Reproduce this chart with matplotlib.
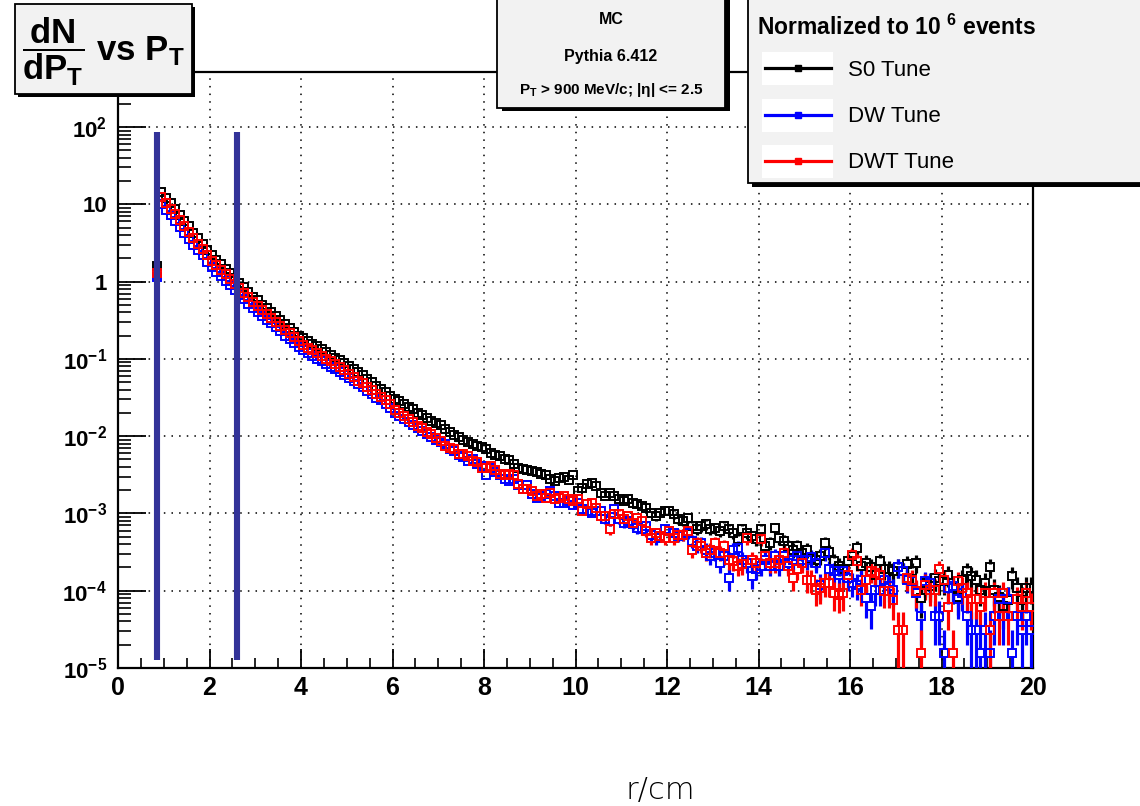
import numpy as np
import matplotlib
matplotlib.use('Agg')
import matplotlib.pyplot as plt
from matplotlib.patches import Rectangle
from matplotlib.lines import Line2D
from matplotlib.ticker import FixedLocator, MultipleLocator, LogLocator, NullFormatter

plt.rcParams['font.family'] = ['Liberation Sans', 'DejaVu Sans']
plt.rcParams['mathtext.fontset'] = 'custom'
plt.rcParams['mathtext.rm'] = 'Liberation Sans'
plt.rcParams['mathtext.bf'] = 'Liberation Sans:bold'
plt.rcParams['mathtext.it'] = 'Liberation Sans:italic'
plt.rcParams['mathtext.sf'] = 'Liberation Sans'

# ---------------- data ----------------
bin_low = 0.8          # first filled bin edge
bin_width = 0.1
entry_weight = 1.55e-5  # weight of a single entry (normalised to 10^6 events)

s0_tune = [
    1.6, 14.5,
    12.2, 10.3, 8.6, 7.3, 6.1, 5.2, 4.3, 3.7, 3.1, 2.6,
    2.2, 1.93, 1.68, 1.46, 1.28, 1.11, 0.97, 0.85, 0.74, 0.64,
    0.57, 0.50, 0.45, 0.40, 0.355, 0.315, 0.28, 0.25, 0.225, 0.20,
    0.185, 0.17, 0.157, 0.145, 0.133, 0.122, 0.113, 0.104, 0.096, 0.088,
    0.081, 0.074, 0.067, 0.061, 0.055, 0.050, 0.045, 0.041, 0.037, 0.033,
    0.0300, 0.0282, 0.0258, 0.0240, 0.0222, 0.0201, 0.0188, 0.0171, 0.0158, 0.0146,
    0.0140, 0.0125, 0.0114, 0.0102, 0.0097, 0.0088, 0.0083, 0.0080, 0.0074, 0.0072,
    0.0068, 0.0060, 0.0057, 0.0055, 0.0051, 0.0049, 0.0044, 0.0039, 0.0038, 0.0037,
    0.0035, 0.0034, 0.0032, 0.0031, 0.0028, 0.0026, 0.0029, 0.0030, 0.0027, 0.0031,
    0.00195, 0.00215, 0.00238, 0.0025, 0.00226, 0.00186, 0.00168, 0.00186, 0.00168, 0.00152,
    0.00145, 0.00152, 0.00138, 0.00131, 0.00125, 0.00119, 0.00102, 0.00092, 0.00102, 0.00107,
    0.00107, 0.00097, 0.00084, 0.00080, 0.00088, 0.00068, 0.00062, 0.00068, 0.00072, 0.00062,
    0.00065, 0.00059, 0.00068, 0.00062, 0.00056, 0.00046, 0.00062, 0.00056, 0.00051, 0.00046,
    0.00062, 0.00038, 0.00042, 0.00065, 0.00048, 0.00044, 0.00038, 0.00034, 0.00038, 0.00031,
    0.00034, 0.000265, 0.00025, 0.00028, 0.00042, 0.00032, 0.00024, 0.00021, 0.00019, 0.00024,
    0.00028, 0.00036, 0.00021, 0.00023, 0.00020, 0.00016, 0.00024, 0.00019, 0.00019, 0.000178,
    0.00020, 0.000178, 0.00022, 0.000178, 0.00023, 0.00008, 0.000126, 0.000114, 0.000146, 0.000132,
    0.000132, 0.000161, 0.000108, 0.000084, 0.000139, 0.000178, 0.000153, 0.000139, 0.000103, 0.000126,
    0.00020, 0.000103, 0.000084, 0.000063, 0.000076, 0.000153, 0.000108, 0.000076, 0.000108, 0.000108,
]

dw_tune = [
    1.15, 10.0,
    8.5, 7.2, 6.0, 5.1, 4.3, 3.6, 3.0, 2.6, 2.2, 1.8,
    1.55, 1.35, 1.18, 1.02, 0.90, 0.78, 0.68, 0.60, 0.52, 0.45,
    0.41, 0.36, 0.32, 0.29, 0.255, 0.227, 0.20, 0.18, 0.162, 0.144,
    0.130, 0.119, 0.110, 0.101, 0.093, 0.085, 0.079, 0.073, 0.067, 0.062,
    0.057, 0.052, 0.047, 0.043, 0.0385, 0.035, 0.0315, 0.029, 0.026, 0.023,
    0.0198, 0.0183, 0.0166, 0.0153, 0.0140, 0.0126, 0.0116, 0.0106, 0.0097, 0.0089,
    0.0083, 0.0079, 0.0068, 0.0065, 0.0057, 0.0053, 0.0048, 0.0050, 0.0043, 0.0041,
    0.0031, 0.0039, 0.0034, 0.0031, 0.0028, 0.0026, 0.0028, 0.0023, 0.0021, 0.0023,
    0.00177, 0.0016, 0.00168, 0.00177, 0.00195, 0.00168, 0.00138, 0.00138, 0.00145, 0.0013,
    0.00138, 0.00113, 0.00107, 0.00102, 0.00107, 0.00107, 0.00084, 0.0008, 0.00113, 0.00084,
    0.00076, 0.0008, 0.00072, 0.00065, 0.00062, 0.00068, 0.00053, 0.00048, 0.00051, 0.00062,
    0.00059, 0.00056, 0.00051, 0.00053, 0.00056, 0.00044, 0.00038, 0.00042, 0.00034, 0.00028,
    0.00031, 0.00023, 0.00028, 0.000146, 0.00034, 0.00036, 0.00025, 0.00023, 0.000153, 0.00019,
    0.00021, 0.00025, 0.00021, 0.00028, 0.00021, 0.00028, 0.00023, 0.00025, 0.00028, 0.00025,
    2.5e-4, 2.7e-4, 2.3e-4, 1.2e-4, 3.1e-4, 1.9e-4, 1.78e-4, 1.61e-4, 1.78e-4, 1.46e-4,
    1.26e-4, 1.2e-4, 1.39e-4, 8.0e-5, 6.3e-5, 1.03e-4, 1.03e-4, 1.39e-4, 1.14e-4, 1.03e-4,
    2.0e-4, 1.78e-4, 1.39e-4, 1.32e-4, 9.3e-5, 4.65e-5, 1.32e-4, 1.26e-4, 4.65e-5, 4.65e-5,
    1.55e-5, 1.08e-4, 1.14e-4, 7.75e-5, 9.3e-5, 4.65e-5, 3.1e-5, 3.1e-5, 1.55e-5, 3.1e-5,
    1.55e-5, 4.65e-5, 7.75e-5, 4.65e-5, 7.75e-5, 1.55e-5, 4.65e-5, 3.1e-5, 4.65e-5, 3.1e-5,
]

dwt_tune = [
    1.3, 12.3,
    10.4, 8.8, 7.4, 6.2, 5.2, 4.4, 3.7, 3.1, 2.65, 2.2,
    1.87, 1.64, 1.43, 1.24, 1.09, 0.94, 0.82, 0.72, 0.63, 0.54,
    0.485, 0.425, 0.38, 0.34, 0.30, 0.268, 0.238, 0.213, 0.19, 0.17,
    0.152, 0.139, 0.129, 0.119, 0.109, 0.100, 0.093, 0.085, 0.079, 0.072,
    0.063, 0.058, 0.052, 0.048, 0.043, 0.039, 0.035, 0.032, 0.029, 0.026,
    0.0215, 0.0201, 0.0182, 0.0166, 0.0153, 0.0136, 0.0128, 0.0113, 0.0106, 0.0096,
    0.0087, 0.0075, 0.0071, 0.0068, 0.0058, 0.0058, 0.0056, 0.0048, 0.0046, 0.0039,
    0.0039, 0.0041, 0.0037, 0.0032, 0.0031, 0.0032, 0.0031, 0.0024, 0.0021, 0.0021,
    0.00195, 0.00168, 0.00177, 0.0016, 0.00186, 0.00152, 0.0016, 0.00168, 0.00152, 0.00145,
    0.00152, 0.00107, 0.00131, 0.00138, 0.00119, 0.00092, 0.00092, 0.00062, 0.00097, 0.00097,
    0.00084, 0.00092, 0.00076, 0.00088, 0.0008, 0.00059, 0.00048, 0.00056, 0.00051, 0.00048,
    0.00059, 0.00048, 0.00053, 0.00053, 0.00059, 0.00034, 0.00042, 0.00038, 0.00031, 0.00034,
    0.00042, 0.00031, 0.00038, 0.00025, 0.00024, 0.00021, 0.00022, 0.00048, 0.00025, 0.00023,
    0.00046, 0.00028, 0.00023, 0.00023, 0.00025, 0.00031, 0.00021, 0.000146, 0.00019, 0.00023,
    1.39e-4, 1.39e-4, 1.03e-4, 1.08e-4, 1.26e-4, 1.26e-4, 9.3e-5, 8.9e-5, 9.3e-5, 1.61e-4,
    2.94e-4, 2.4e-4, 1.03e-4, 1.39e-4, 1.78e-4, 1.69e-4, 1.61e-4, 9.8e-5, 9.8e-5, 7.6e-5,
    3.1e-5, 3.1e-5, 1.46e-4, 1.39e-4, 9.8e-5, 1.55e-5, 1.2e-4, 1.03e-4, 1.03e-4, 1.9e-4,
    1.39e-4, 6.2e-5, 1.55e-5, 1.32e-4, 1.08e-4, 9.3e-5, 7.75e-5, 7.75e-5, 6.2e-5, 9.3e-5,
    3.1e-5, 9.3e-5, 4.65e-5, 9.3e-5, 4.65e-5, np.nan, 7.75e-5, 6.2e-5, 9.3e-5, 6.2e-5,
]

series_names = ['S0 Tune', 'DW Tune', 'DWT Tune']
series_colors = ['#000000', '#0000ff', '#ff0000']

cut_positions = [0.85, 2.6]
cut_range = [1.27e-5, 86.0]

x_ticks = [0, 2, 4, 6, 8, 10, 12, 14, 16, 18, 20]
y_ticks = [1e-5, 1e-4, 1e-3, 1e-2, 1e-1, 1, 10, 100]
y_tick_labels = [r'$\mathbf{10^{-5}}$', r'$\mathbf{10^{-4}}$', r'$\mathbf{10^{-3}}$',
                 r'$\mathbf{10^{-2}}$', r'$\mathbf{10^{-1}}$', '1', '10', r'$\mathbf{10^{2}}$']

# ---------------- figure ----------------
W, H = 1140, 806
fig = plt.figure(figsize=(W / 100, H / 100), dpi=100)
fig.patch.set_facecolor('white')


def fx(px):
    return px / W


def fy(py):
    return 1 - py / H


ax = fig.add_axes([fx(118), fy(668), fx(1033) - fx(118), fy(72) - fy(668)])
ax.set_yscale('log')
ax.set_xlim(0, 20)
ax.set_ylim(1e-5, 515)

n_bins = len(s0_tune)
centers = bin_low + bin_width * (np.arange(n_bins) + 0.5)

gap = 1.12


def draw_series(vals, color):
    v = np.array(vals, dtype=float)
    ok = ~np.isnan(v)
    err = np.sqrt(np.where(ok, v, 0) * entry_weight)
    lo = np.maximum(v - err, 1e-9)
    hi = v + err
    m = ok & (lo < v / gap)
    ax.vlines(centers[m], lo[m], v[m] / gap, colors=color, lw=2.3, zorder=3)
    m = ok & (hi > v * gap)
    ax.vlines(centers[m], v[m] * gap, hi[m], colors=color, lw=2.3, zorder=3)
    ax.plot(centers[ok], v[ok], ls='none', marker='s', ms=5.6, mfc='none',
            mec=color, mew=1.4, zorder=4)


for vals, col in zip([s0_tune, dw_tune, dwt_tune], series_colors):
    draw_series(vals, col)

ax.vlines(cut_positions, cut_range[0], cut_range[1], colors='#333399', lw=4.4, zorder=5)

# ticks
ax.set_xticks(x_ticks)
ax.set_xticklabels([str(t) for t in x_ticks])
ax.xaxis.set_minor_locator(MultipleLocator(0.5))
ax.yaxis.set_major_locator(FixedLocator(y_ticks))
ax.set_yticklabels(y_tick_labels)
ax.yaxis.set_minor_locator(LogLocator(base=10, subs=np.arange(2, 10)))
ax.yaxis.set_minor_formatter(NullFormatter())

ax.tick_params(axis='x', which='major', direction='in', length=14, width=1.3,
               labelsize=18, pad=6, top=False)
ax.tick_params(axis='x', which='minor', direction='in', length=7, width=1.2, top=False)
ax.tick_params(axis='y', which='major', direction='in', length=20, width=1.3,
               labelsize=16, pad=8, right=False)
ax.tick_params(axis='y', which='minor', direction='in', length=9.5, width=1.2, right=False)
for lbl in ax.get_xticklabels() + ax.get_yticklabels():
    lbl.set_fontweight('bold')

for sp in ax.spines.values():
    sp.set_linewidth(1.6)

ax.grid(True, which='major', ls=(0, (1, 4)), color='black', lw=1.1)
ax.set_axisbelow(True)

# x label
fig.text(fx(660), fy(790), 'r/cm', ha='center', va='center', fontsize=22,
         family='DejaVu Sans', fontweight='light')


# ---------------- boxes ----------------
def box(x0, y0, x1, y1, shadow=(3, 3), lw=1.3):
    sx, sy = shadow
    fig.add_artist(Rectangle((fx(x0 + sx), fy(y1 + sy)), fx(x1 - x0), fy(y0) - fy(y1),
                             transform=fig.transFigure, fc='black', ec='none', zorder=5))
    fig.add_artist(Rectangle((fx(x0), fy(y1)), fx(x1 - x0), fy(y0) - fy(y1),
                             transform=fig.transFigure, fc='#f2f2f2', ec='black', lw=lw,
                             zorder=6))


# title box
box(15, 4, 192, 94, shadow=(3, 3))
fig.text(fx(103), fy(52), r'$\mathbf{\dfrac{dN}{dP_{T}}\ vs\ P_{T}}$', ha='center',
         va='center', fontsize=25, zorder=8)

# MC box
box(497, -10, 725, 108, shadow=(5, 3))
fig.text(fx(611), fy(20), 'MC', ha='center', va='center', fontsize=11.5,
         fontweight='bold', zorder=8)
fig.text(fx(611), fy(57), 'Pythia 6.412', ha='center', va='center', fontsize=11.5,
         fontweight='bold', zorder=8)
fig.text(fx(611), fy(90), r'P$_{\mathbf{T}}$ > 900 MeV/c; |η| <= 2.5', ha='center',
         va='center', fontsize=11, fontweight='bold', zorder=8)

# legend box
box(748, -10, 1150, 183, shadow=(4, 4))
fig.text(fx(757), fy(27), r'Normalized to 10 $^{\mathbf{6}}$ events', ha='left',
         va='center', fontsize=16.5, fontweight='bold', zorder=8)
entry_y = [68, 115, 161]
for name, col, yy in zip(series_names, series_colors, entry_y):
    fig.add_artist(Rectangle((fx(762), fy(yy + 17)), fx(833 - 762), fy(yy - 16) - fy(yy + 17),
                             transform=fig.transFigure, fc='white', ec='none', zorder=7))
    fig.add_artist(Line2D([fx(765), fx(831)], [fy(yy), fy(yy)], transform=fig.transFigure,
                          color=col, lw=2.3, zorder=8))
    fig.add_artist(Line2D([fx(798)], [fy(yy)], transform=fig.transFigure, color=col,
                          ls='none', marker='s', ms=4, zorder=9))
    fig.text(fx(848), fy(yy + 2), name, ha='left', va='center', fontsize=16, zorder=8)

fig.savefig('out.png', dpi=100)
